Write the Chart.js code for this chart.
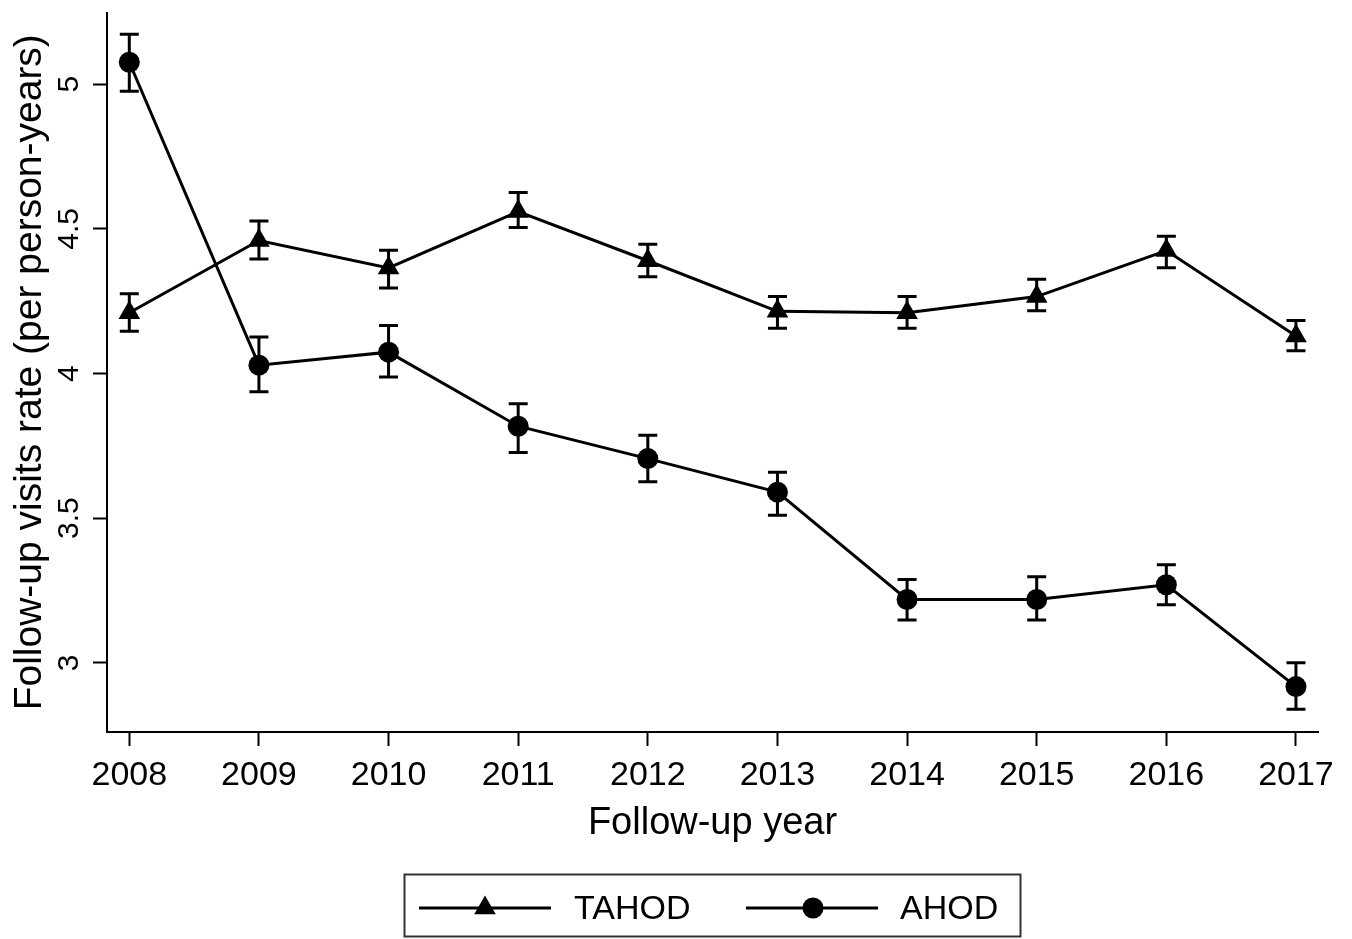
<!DOCTYPE html>
<html>
<head>
<meta charset="utf-8">
<script src="https://cdn.jsdelivr.net/npm/chart.js@4.4.1/dist/chart.umd.min.js"></script>
<style>
  html, body { margin: 0; padding: 0; background: #fff; }
  canvas { display: block; }
</style>
</head>
<body>
<canvas id="c" width="1352" height="939"></canvas>
<script>
// ---- data ----
const years = [2008, 2009, 2010, 2011, 2012, 2013, 2014, 2015, 2016, 2017];
const xTickLabels = ["2008", "2009", "2010", "2011", "2012", "2013", "2014", "2015", "2016", "2017"];
const yTickValues = [3, 3.5, 4, 4.5, 5];
const yTickLabels = ["3", "3.5", "4", "4.5", "5"];

const tahod     = [4.21, 4.46, 4.365, 4.56, 4.39, 4.215, 4.21, 4.266, 4.425, 4.13];
const tahodLow  = [4.146, 4.396, 4.296, 4.505, 4.335, 4.157, 4.157, 4.217, 4.366, 4.079];
const tahodHigh = [4.276, 4.527, 4.426, 4.626, 4.447, 4.266, 4.266, 4.326, 4.475, 4.183];

const ahod      = [5.076, 4.029, 4.074, 3.818, 3.706, 3.590, 3.219, 3.219, 3.270, 2.918];
const ahodLow   = [4.976, 3.937, 3.988, 3.727, 3.626, 3.510, 3.148, 3.148, 3.201, 2.840];
const ahodHigh  = [5.173, 4.126, 4.166, 3.896, 3.787, 3.659, 3.288, 3.298, 3.339, 3.000];

const seriesNames = ["TAHOD", "AHOD"];
const xTitle = "Follow-up year";
const yTitle = "Follow-up visits rate (per person-years)";

const FONT = '"Liberation Sans", Arial, Helvetica, sans-serif';

const toPoints = (vals) => years.map((yr, i) => ({ x: yr, y: vals[i] }));

const errorSets = [
  { low: tahodLow, high: tahodHigh },
  { low: ahodLow, high: ahodHigh }
];

const errorBars = {
  id: 'errorBars',
  afterDatasetsDraw(chart) {
    const { ctx, scales: { x, y } } = chart;
    ctx.save();
    ctx.strokeStyle = '#000';
    ctx.lineWidth = 3;
    const cap = 9.5;
    errorSets.forEach(s => {
      years.forEach((yr, i) => {
        const px = x.getPixelForValue(yr);
        const lo = y.getPixelForValue(s.low[i]);
        const hi = y.getPixelForValue(s.high[i]);
        ctx.beginPath();
        ctx.moveTo(px, lo); ctx.lineTo(px, hi);
        ctx.moveTo(px - cap, lo); ctx.lineTo(px + cap, lo);
        ctx.moveTo(px - cap, hi); ctx.lineTo(px + cap, hi);
        ctx.stroke();
      });
    });
    ctx.restore();
  }
};

function drawTriangle(ctx, cx, cy, r) {
  ctx.beginPath();
  for (let k = 0; k < 3; k++) {
    const a = k * 2 * Math.PI / 3;
    const px = cx + Math.sin(a) * r;
    const py = cy - Math.cos(a) * r;
    if (k === 0) ctx.moveTo(px, py); else ctx.lineTo(px, py);
  }
  ctx.closePath();
  ctx.fill();
}

const customLegend = {
  id: 'customLegend',
  afterDraw(chart) {
    const ctx = chart.ctx;
    ctx.save();
    ctx.strokeStyle = '#333';
    ctx.lineWidth = 2;
    ctx.strokeRect(404.5, 874.5, 616, 62);
    const ly = 908;
    ctx.strokeStyle = '#000';
    ctx.fillStyle = '#000';
    ctx.lineWidth = 3;
    // TAHOD
    ctx.beginPath(); ctx.moveTo(419, ly); ctx.lineTo(551, ly); ctx.stroke();
    drawTriangle(ctx, 485, ly, 12.5);
    // AHOD
    ctx.beginPath(); ctx.moveTo(746, ly); ctx.lineTo(878, ly); ctx.stroke();
    ctx.beginPath(); ctx.arc(813, ly, 10.5, 0, Math.PI * 2); ctx.fill();
    ctx.font = '34px ' + FONT;
    ctx.textBaseline = 'middle';
    ctx.textAlign = 'left';
    ctx.fillText(seriesNames[0], 574, ly + 2);
    ctx.fillText(seriesNames[1], 900, ly + 2);
    ctx.restore();
  }
};

new Chart(document.getElementById('c'), {
  type: 'line',
  data: {
    datasets: [
      {
        label: seriesNames[0],
        data: toPoints(tahod),
        borderColor: '#000',
        backgroundColor: '#000',
        borderWidth: 3,
        pointStyle: 'triangle',
        pointRadius: 12.5,
        pointHoverRadius: 12.5,
        pointBackgroundColor: '#000',
        pointBorderColor: '#000',
        pointBorderWidth: 0,
        tension: 0
      },
      {
        label: seriesNames[1],
        data: toPoints(ahod),
        borderColor: '#000',
        backgroundColor: '#000',
        borderWidth: 3,
        pointStyle: 'circle',
        pointRadius: 10.5,
        pointHoverRadius: 10.5,
        pointBackgroundColor: '#000',
        pointBorderColor: '#000',
        pointBorderWidth: 0,
        tension: 0
      }
    ]
  },
  options: {
    responsive: false,
    animation: false,
    events: [],
    layout: { padding: { left: 0, top: 10, right: 34, bottom: 80 } },
    plugins: {
      legend: { display: false },
      tooltip: { enabled: false }
    },
    scales: {
      x: {
        type: 'linear',
        min: 2007.828,
        max: 2017.17,
        afterBuildTicks: (s) => { s.ticks = years.map(v => ({ value: v })); },
        afterFit: (s) => { s.height = 127; s.paddingLeft = 0; s.paddingRight = 0; },
        ticks: {
          color: '#000',
          font: { family: FONT, size: 34 },
          padding: 9,
          maxRotation: 0,
          minRotation: 0,
          autoSkip: false,
          callback: (v) => { const i = years.indexOf(v); return i >= 0 ? xTickLabels[i] : ''; }
        },
        grid: {
          display: true,
          drawOnChartArea: false,
          drawTicks: true,
          tickLength: 14,
          tickWidth: 2,
          tickColor: '#000'
        },
        border: { display: true, color: '#000', width: 2 },
        title: {
          display: true,
          text: xTitle,
          color: '#000',
          font: { family: FONT, size: 38 },
          padding: { top: 0, bottom: 13 }
        }
      },
      y: {
        type: 'linear',
        min: 2.761,
        max: 5.248,
        afterBuildTicks: (s) => { s.ticks = yTickValues.map(v => ({ value: v })); },
        afterFit: (s) => { s.width = 107; s.paddingTop = 0; s.paddingBottom = 0; },
        ticks: {
          color: '#000',
          font: { family: FONT, size: 30 },
          padding: 2,
          minRotation: 90,
          maxRotation: 90,
          crossAlign: 'center',
          autoSkip: false,
          callback: (v) => { const i = yTickValues.indexOf(v); return i >= 0 ? yTickLabels[i] : ''; }
        },
        grid: {
          display: true,
          drawOnChartArea: false,
          drawTicks: true,
          tickLength: 14,
          tickWidth: 2,
          tickColor: '#000'
        },
        border: { display: true, color: '#000', width: 2 },
        title: {
          display: true,
          text: yTitle,
          color: '#000',
          font: { family: FONT, size: 39 },
          padding: { top: 7, bottom: 0 },
          align: 'center'
        }
      }
    }
  },
  plugins: [errorBars, customLegend]
});
</script>
</body>
</html>
